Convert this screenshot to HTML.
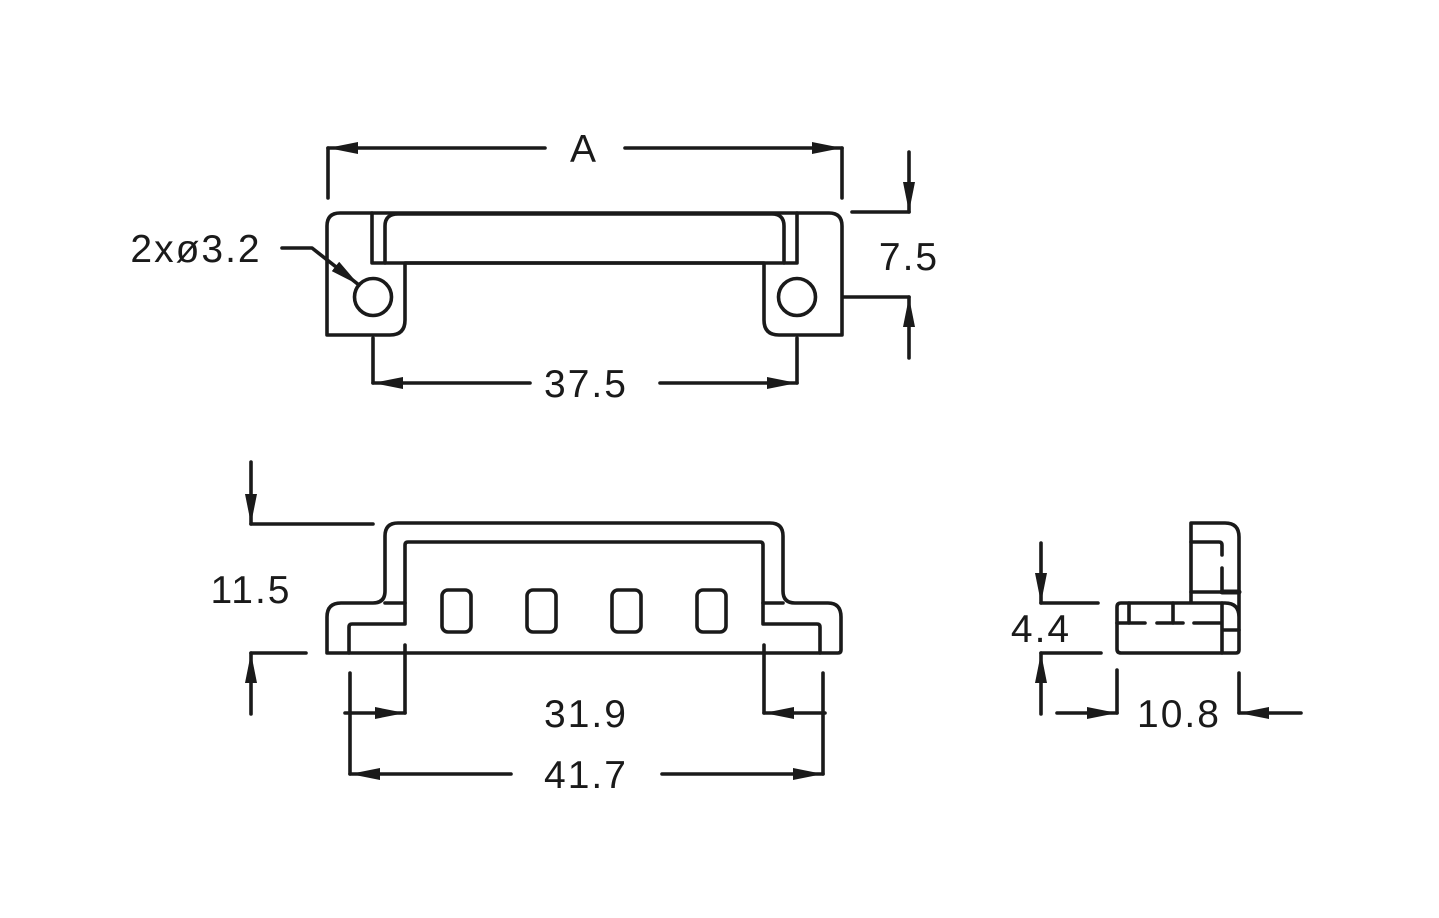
<!DOCTYPE html>
<html><head><meta charset="utf-8"><style>
html,body{margin:0;padding:0;background:#fff;}
svg{display:block;}
text{font-family:"Liberation Sans",sans-serif;font-size:39px;fill:#1a1a1a;letter-spacing:2px;}
</style></head><body>
<svg width="1439" height="918" viewBox="0 0 1439 918" xmlns="http://www.w3.org/2000/svg">
<defs>
<marker id="ah" viewBox="0 0 30 12" refX="30" refY="6" markerWidth="30" markerHeight="12" markerUnits="userSpaceOnUse" orient="auto">
<path d="M0,0 L30,6 L0,12 Z" fill="#1a1a1a"/>
</marker>
</defs>
<g fill="none" stroke="#1a1a1a" stroke-width="3.6" stroke-linecap="round" stroke-linejoin="round">
<!-- TOP VIEW -->
<path d="M327,335 L327,226 Q327,213 340,213 L829,213 Q842,213 842,226 L842,335 L779,335 Q764,335 764,320 L764,263 L405,263 L405,320 Q405,335 390,335 Z"/>
<path d="M372,213 L372,263 L797,263 L797,213"/>
<path d="M385,263 L385,226 Q385,214 398,214 L772,214 Q784,214 784,226 L784,263"/>
<circle cx="373" cy="297" r="18.5"/>
<circle cx="797" cy="297" r="18.5"/>
<!-- A dim -->
<path d="M328,148 L328,198 M842,148 L842,198"/>
<path d="M545,148 L328,148" marker-end="url(#ah)"/>
<path d="M625,148 L842,148" marker-end="url(#ah)"/>
<!-- 7.5 -->
<path d="M852,212 L909,212 M843,297 L909,297"/>
<path d="M909,152 L909,212" marker-end="url(#ah)"/>
<path d="M909,358 L909,297" marker-end="url(#ah)"/>
<!-- 37.5 -->
<path d="M373,338 L373,383 M797,338 L797,383"/>
<path d="M530,383 L373,383" marker-end="url(#ah)"/>
<path d="M660,383 L797,383" marker-end="url(#ah)"/>
<!-- leader -->
<path d="M282,248 L312,248 L359,285" marker-end="url(#ah)"/>

<!-- FRONT VIEW -->
<path d="M327,653 L327,617 Q327,603 341,603 L373,603 Q385,603 385,591 L385,536 Q385,523 398,523 L770,523 Q783,523 783,536 L783,591 Q783,603 795,603 L828,603 Q841,603 841,617 L841,650 Q841,653 838,653 Z"/>
<path d="M349,653 L349,627 Q349,624 352,624 L405,624 L405,545 Q405,542 408,542 L760,542 Q763,542 763,545 L763,624 L817,624 Q820,624 820,627 L820,653"/>
<path d="M385,603 L405,603 M763,603 L783,603"/>
<rect x="442" y="590" width="29" height="42" rx="6"/>
<rect x="527" y="590" width="29" height="42" rx="6"/>
<rect x="612" y="590" width="29" height="42" rx="6"/>
<rect x="697" y="590" width="29" height="42" rx="6"/>
<!-- 11.5 -->
<path d="M251,524 L373,524 M251,653 L306,653"/>
<path d="M251,462 L251,524" marker-end="url(#ah)"/>
<path d="M251,714 L251,653" marker-end="url(#ah)"/>
<!-- 31.9 -->
<path d="M405,645 L405,713 M764,645 L764,713"/>
<path d="M345,713 L405,713" marker-end="url(#ah)"/>
<path d="M825,713 L764,713" marker-end="url(#ah)"/>
<!-- 41.7 -->
<path d="M350,673 L350,774 M823,673 L823,774"/>
<path d="M511,774 L350,774" marker-end="url(#ah)"/>
<path d="M662,774 L823,774" marker-end="url(#ah)"/>

<!-- SIDE VIEW -->
<path d="M1191,603 L1191,523 L1225,523 Q1239,523 1239,537 L1239,650 Q1239,653 1236,653 L1121,653 Q1117,653 1117,649 L1117,607 Q1117,603 1121,603 L1225,603 Q1239,603 1239,617"/>
<path d="M1191,542 L1219,542 Q1222,542 1222,545 L1222,555 M1222,568 L1222,592"/>
<path d="M1191,592 L1239,592"/>
<path d="M1222,592 L1239,592" stroke-width="5"/>
<path d="M1222,603 L1222,653 M1222,630 L1239,630"/>
<path d="M1117,623 L1145,623 M1157,623 L1183,623 M1194,623 L1220,623"/>
<path d="M1129,603 L1129,623 M1173,603 L1173,623"/>
<!-- 4.4 -->
<path d="M1041,603 L1098,603 M1041,653 L1101,653"/>
<path d="M1041,543 L1041,603" marker-end="url(#ah)"/>
<path d="M1041,714 L1041,653" marker-end="url(#ah)"/>
<!-- 10.8 -->
<path d="M1117,670 L1117,713 M1239,673 L1239,713"/>
<path d="M1057,713 L1117,713" marker-end="url(#ah)"/>
<path d="M1301,713 L1239,713" marker-end="url(#ah)"/>
</g>
<g>
<text x="584" y="162" text-anchor="middle">A</text>
<text x="909" y="270" text-anchor="middle">7.5</text>
<text x="586" y="397" text-anchor="middle">37.5</text>
<text x="196" y="262" text-anchor="middle">2xø3.2</text>
<text x="251" y="603" text-anchor="middle">11.5</text>
<text x="586" y="727" text-anchor="middle">31.9</text>
<text x="586" y="788" text-anchor="middle">41.7</text>
<text x="1041" y="642" text-anchor="middle">4.4</text>
<text x="1179" y="727" text-anchor="middle">10.8</text>
</g>
</svg>
</body></html>
